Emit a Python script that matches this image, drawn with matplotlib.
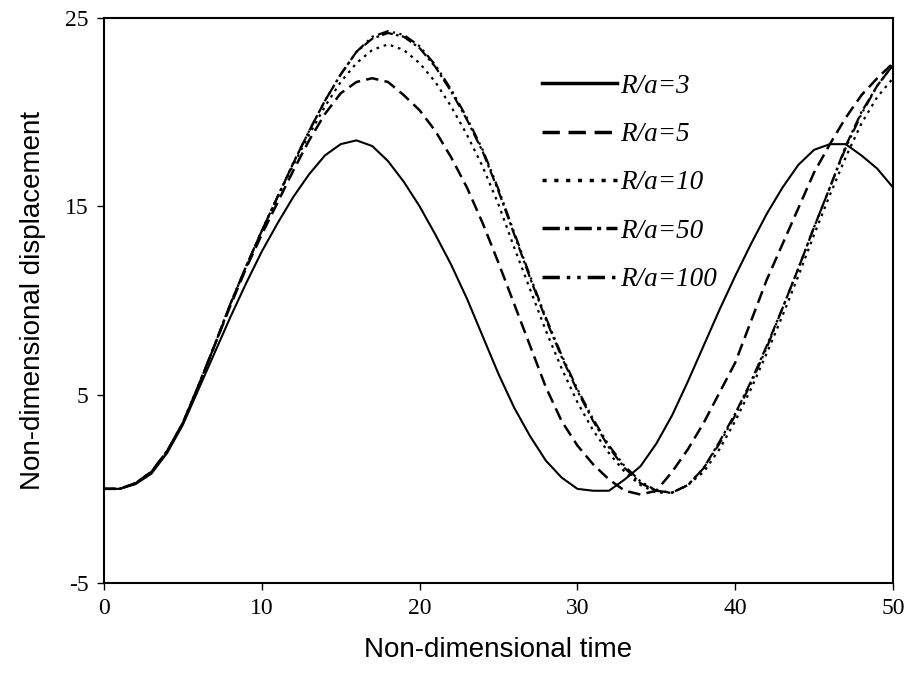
import numpy as np
import matplotlib
matplotlib.use("Agg")
import matplotlib.pyplot as plt

plt.rcParams["axes.unicode_minus"] = False

# non-dimensional time, one sample per unit
t = np.arange(0, 51)

# R/a = 3
d3 = [0.0, 0.0, 0.25, 0.8, 1.9, 3.4, 5.3, 7.2, 9.1, 10.9,
      12.6, 14.1, 15.5, 16.7, 17.7, 18.3, 18.5, 18.2, 17.4, 16.3,
      15.0, 13.5, 11.9, 10.1, 8.1, 6.1, 4.3, 2.8, 1.5, 0.6,
      0.0, -0.1, -0.1, 0.5, 1.2, 2.4, 3.9, 5.7, 7.6, 9.5,
      11.3, 13.0, 14.6, 16.0, 17.2, 18.0, 18.3, 18.3, 17.7, 17.0,
      16.0]
# R/a = 5
d5 = [0.0, 0.0, 0.3, 0.9, 2.0, 3.5, 5.5, 7.6, 9.7, 11.7,
      13.5, 15.2, 16.9, 18.5, 19.9, 21.0, 21.6, 21.8, 21.6, 20.9,
      20.1, 19.0, 17.6, 16.0, 14.1, 12.0, 9.8, 7.6, 5.4, 3.6,
      2.3, 1.3, 0.5, -0.1, -0.3, -0.1, 0.9, 2.1, 3.5, 5.1,
      6.7, 8.9, 11.1, 13.0, 14.9, 16.8, 18.3, 19.7, 20.9, 21.8,
      22.6]
# R/a = 10
d10 = [0.0, 0.0, 0.3, 0.9, 2.0, 3.5, 5.5, 7.6, 9.8, 11.8,
       13.7, 15.5, 17.2, 18.8, 20.3, 21.6, 22.6, 23.3, 23.6, 23.3,
       22.6, 21.6, 20.3, 18.8, 17.1, 15.1, 12.8, 10.6, 8.4, 6.4,
       4.6, 3.1, 1.9, 0.9, 0.2, -0.2, -0.2, 0.2, 0.9, 2.1,
       3.6, 5.3, 7.2, 9.2, 11.3, 13.5, 15.6, 17.6, 19.4, 20.8,
       21.8]
# R/a = 50
d50 = [0.0, 0.0, 0.3, 0.9, 2.0, 3.5, 5.5, 7.6, 9.8, 11.8,
       13.7, 15.5, 17.3, 19.0, 20.6, 22.0, 23.2, 23.9, 24.2, 24.0,
       23.4, 22.4, 21.1, 19.6, 17.9, 15.8, 13.5, 11.2, 9.0, 7.0,
       5.2, 3.6, 2.2, 1.1, 0.3, -0.1, -0.2, 0.2, 1.1, 2.5,
       4.0, 5.7, 7.6, 9.6, 11.7, 13.9, 16.0, 18.2, 20.0, 21.4,
       22.5]
# R/a = 100
d100 = [0.0, 0.0, 0.3, 0.9, 2.0, 3.5, 5.5, 7.6, 9.8, 11.8,
        13.7, 15.5, 17.3, 19.0, 20.6, 22.0, 23.2, 24.0, 24.3, 24.1,
        23.5, 22.5, 21.2, 19.7, 18.0, 15.9, 13.6, 11.3, 9.1, 7.1,
        5.3, 3.7, 2.3, 1.2, 0.4, -0.1, -0.2, 0.2, 1.1, 2.4,
        3.9, 5.6, 7.5, 9.6, 11.7, 13.9, 16.0, 18.1, 19.9, 21.4,
        22.5]

labels = ["R/a=3", "R/a=5", "R/a=10", "R/a=50", "R/a=100"]
series = [d3, d5, d10, d50, d100]
styles = [
    dict(ls="-", lw=1.5),
    dict(ls=(0, (5, 2.5)), lw=1.8),
    dict(ls=(0, (1.2, 2.2)), lw=1.6),
    dict(ls=(0, (5, 1.5, 1.2, 1.5)), lw=1.6),
    dict(ls=(0, (5, 2, 1, 2, 1, 2)), lw=1.6),
]

fig = plt.figure(figsize=(9.08, 6.9), dpi=100)
ax = fig.add_axes([0.1145, 0.155, 0.869, 0.819])

for y, lab, st in zip(series, labels, styles):
    ax.plot(t, y, color="black", label=lab, **st)

ax.set_xlim(0, 50)
ax.set_ylim(-5, 25)
ax.set_xticks([0, 10, 20, 30, 40, 50])
ax.set_yticks([-5, 5, 15, 25])
ax.tick_params(direction="out", length=5, width=1, pad=6)
for lab in ax.get_xticklabels() + ax.get_yticklabels():
    lab.set_fontfamily("Liberation Serif")
    lab.set_fontsize(17)
for sp in ax.spines.values():
    sp.set_linewidth(1.5)

ax.set_xlabel("Non-dimensional time", fontsize=20, family="Liberation Sans", labelpad=13)
ax.set_ylabel("Non-dimensional displacement", fontsize=20, family="Liberation Sans", labelpad=14)

leg = ax.legend(loc="upper left", bbox_to_anchor=(0.538, 0.925), frameon=False,
                handlelength=2.78, handletextpad=0.1, labelspacing=0.86, borderpad=0,
                prop=dict(family="Liberation Serif", style="italic", size=19.5))
for h in leg.legend_handles:
    h.set_linewidth(2.5)

fig.savefig("out.png", dpi=100)
